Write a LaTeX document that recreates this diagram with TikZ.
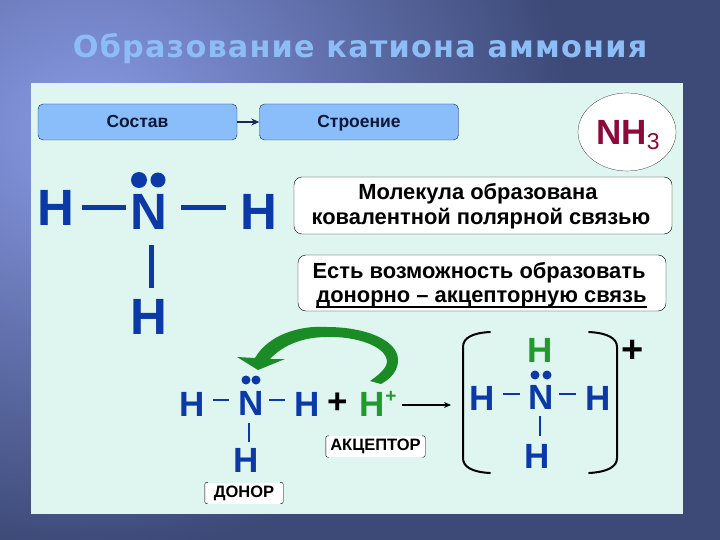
\documentclass[tikz,border=0pt]{standalone}
\usepackage{fontspec}
\setmainfont{Liberation Sans}
\newfontfamily\titlefont[LetterSpace=4]{DejaVu Sans}
\usetikzlibrary{arrows.meta,shapes.geometric}
\definecolor{panelcolor}{HTML}{DFF5F0}
\definecolor{boxblue}{HTML}{8ABEFA}
\definecolor{navyline}{HTML}{14295E}
\definecolor{atomblue}{HTML}{0B3AA8}
\definecolor{protongreen}{HTML}{1E9B2A}
\definecolor{nhcolor}{HTML}{8B0A3C}
\definecolor{titleblue}{HTML}{8DBDF6}
\definecolor{bgdark}{HTML}{3D4A78}
\definecolor{bglight}{HTML}{8A9BE6}
\tikzset{
    headbox/.style={draw=navyline, fill=boxblue, rounded corners=5pt, minimum width=199pt, minimum height=36pt, inner sep=0pt, text height=14pt, text depth=2pt, font=\fontsize{17.5}{17.5}\selectfont\bfseries, text=navyline!60!black},
    textbox/.style={draw=black, fill=white, rounded corners=8pt, inner sep=0pt},
    boxline/.style={inner sep=0pt, anchor=base, text depth=5pt, font=\fontsize{21.9}{21.9}\selectfont\bfseries},
    bigatom/.style={inner sep=0pt, text=atomblue, font=\fontsize{51}{51}\selectfont\bfseries},
    smallatom/.style={inner sep=0pt, text=atomblue, font=\fontsize{35}{35}\selectfont\bfseries},
    bigbond/.style={draw=atomblue, line width=5pt},
    smallbond/.style={draw=atomblue, line width=2pt},
    rolebox/.style={fill=white, inner sep=0pt, minimum height=21pt, font=\fontsize{16.5}{16.5}\selectfont\bfseries},
    bracket/.style={draw=black, line width=2pt, line cap=round}
}
\begin{document}
\begin{tikzpicture}[x=1pt, y=-1pt]
    \useasboundingbox (0,0) rectangle (720,540);
    % Background
    \fill[bgdark] (0,0) rectangle (720,540);
    \begin{scope}
        \clip (0,0) rectangle (720,540);
        \shade[inner color=bglight, outer color=bgdark] (90,130) ellipse (480 and 420);
    \end{scope}
    \node[font=\titlefont\fontsize{30.3}{30.3}\selectfont\bfseries, text=titleblue, inner sep=0pt] (title) at (360,49) {Образование катиона аммония};

    % Panel
    \fill[panelcolor] (31,83) rectangle (683,514);

    % Top row
    \node[headbox] (sostav) at (137.5,122) {Состав};
    \node[headbox] (stroenie) at (359,122) {Строение};
    \draw[navyline, line width=1.4pt, -{Stealth[length=8pt,width=7pt]}] (sostav) -- (stroenie);
    \node[draw=black, very thin, fill=white, ellipse, minimum width=98pt, minimum height=78pt, inner sep=0pt] (formula) at (627,132) {};
    \node[inner sep=0pt, text=nhcolor, anchor=base west] (nh) at (596,145) {\fontsize{35}{35}\selectfont\bfseries NH\raisebox{-5pt}{\fontsize{23}{23}\selectfont\mdseries 3}};

    % Text boxes
    \node[textbox, minimum width=378pt, minimum height=57pt] (boxone) at (483,205.5) {};
    \node[boxline] (lineone) at (478,200) {Молекула образована};
    \node[boxline] (linetwo) at (481,225) {ковалентной полярной связью};
    \node[textbox, minimum width=368pt, minimum height=56pt] (boxtwo) at (482,283) {};
    \node[boxline] (linethree) at (479,278) {Есть возможность образовать};
    \node[boxline] (linefour) at (481.5,302) {донорно – акцепторную связь};
    \draw[black, line width=1.6pt] (linefour.south west) -- (linefour.south east);

    % Large NH3
    \node[bigatom] (hleft) at (56,208) {H};
    \node[bigatom] (nbig) at (149,212) {N};
    \node[bigatom] (hright) at (259,212) {H};
    \node[bigatom] (hdown) at (149,317) {H};
    \fill[atomblue] (139,180) circle (8);
    \fill[atomblue] (158,180) circle (7.5);
    \draw[bigbond] ([xshift=7pt]hleft.east) -- ([xshift=-4pt]nbig.west |- hleft.east);
    \draw[bigbond] ([xshift=13pt]nbig.east |- hleft.east) -- ([xshift=-14pt]hright.west |- hleft.east);
    \draw[bigbond] ([xshift=2pt,yshift=-15pt]nbig.south) -- ([xshift=2pt,yshift=11pt]hdown.north);

    % Reaction, left side
    \node[smallatom] (ha) at (192,404) {H};
    \node[smallatom] (na) at (251,403) {N};
    \node[smallatom] (hb) at (307,404) {H};
    \node[smallatom] (hc) at (246,460) {H};
    \node[inner sep=0pt, font=\fontsize{35}{35}\selectfont\bfseries] (plus) at (338,403) {+};
    \node[smallatom, text=protongreen] (hproton) at (372,404) {H};
    \node[inner sep=0pt, text=protongreen, font=\fontsize{19}{19}\selectfont\bfseries] (charge) at (391,397) {+};
    \fill[atomblue] (246,380) circle (4.5);
    \fill[atomblue] (256,380) circle (4.5);
    \draw[smallbond] ([xshift=8pt,yshift=4pt]ha.east) -- ([xshift=-9pt,yshift=3pt]na.west);
    \draw[smallbond] ([xshift=5pt,yshift=3pt]na.east) -- ([xshift=-9pt,yshift=4pt]hb.west);
    \draw[smallbond] ([xshift=-2pt,yshift=-8pt]na.south) -- ([xshift=3pt,yshift=6pt]hc.north);
    \coordinate (arrowstart) at (402,405);
    \coordinate (arrowend) at (451,405);
    \draw[black, line width=1.3pt, -{Stealth[length=7pt,width=6pt]}] (arrowstart) -- (arrowend);

    % Green arrow
    \fill[protongreen!90!black] (370,381) .. controls (382,373) and (387,366) .. (387,362)
        .. controls (387,346) and (355,336) .. (327,337)
        .. controls (303,337) and (283,345) .. (270,359)
        -- (285,359) -- (258,370) -- (237,357) -- (255,358)
        .. controls (268,335) and (300,325) .. (327,327)
        .. controls (365,327) and (398,340) .. (398,360)
        .. controls (398,370) and (392,378) .. (381,384) -- cycle;

    % Role labels
    \node[rolebox, minimum width=99pt] (acceptor) at (375.5,446.5) {АКЦЕПТОР};
    \node[rolebox, minimum width=78pt] (donor) at (244,493) {ДОНОР};
    \foreach \lbl in {acceptor,donor} {
        \draw[black, thin, rounded corners=2pt] ([xshift=3pt]\lbl.north west) -- (\lbl.north west) -- (\lbl.south west) -- ([xshift=3pt]\lbl.south west);
        \draw[black, thin, rounded corners=2pt] ([xshift=-3pt]\lbl.north east) -- (\lbl.north east) -- (\lbl.south east) -- ([xshift=-3pt]\lbl.south east);
    }

    % Ammonium cation
    \draw[bracket] (490,332) .. controls (472,333) and (463,338) .. (463,347) -- (463,458) .. controls (463,467) and (472,472) .. (490,473);
    \draw[bracket] (589,332) .. controls (607,333) and (617,338) .. (617,347) -- (617,458) .. controls (617,467) and (607,472) .. (589,473);
    \node[inner sep=0pt, font=\fontsize{38}{38}\selectfont\bfseries] (cation) at (633,351) {+};
    \node[smallatom, text=protongreen] (hd) at (540,350) {H};
    \node[smallatom] (nc) at (541,397) {N};
    \node[smallatom] (he) at (482,398) {H};
    \node[smallatom] (hf) at (598,398) {H};
    \node[smallatom] (hg) at (537,456) {H};
    \fill[atomblue] (535,375) circle (4.5);
    \fill[atomblue] (547,375) circle (4.5);
    \draw[smallbond] ([xshift=8pt,yshift=4pt]he.east) -- ([xshift=-8pt,yshift=3pt]nc.west);
    \draw[smallbond] ([xshift=5pt,yshift=3pt]nc.east) -- ([xshift=-9pt,yshift=4pt]hf.west);
    \draw[smallbond] ([xshift=-1pt,yshift=-7pt]nc.south) -- ([xshift=3pt,yshift=8pt]hg.north);
\end{tikzpicture}
\end{document}
